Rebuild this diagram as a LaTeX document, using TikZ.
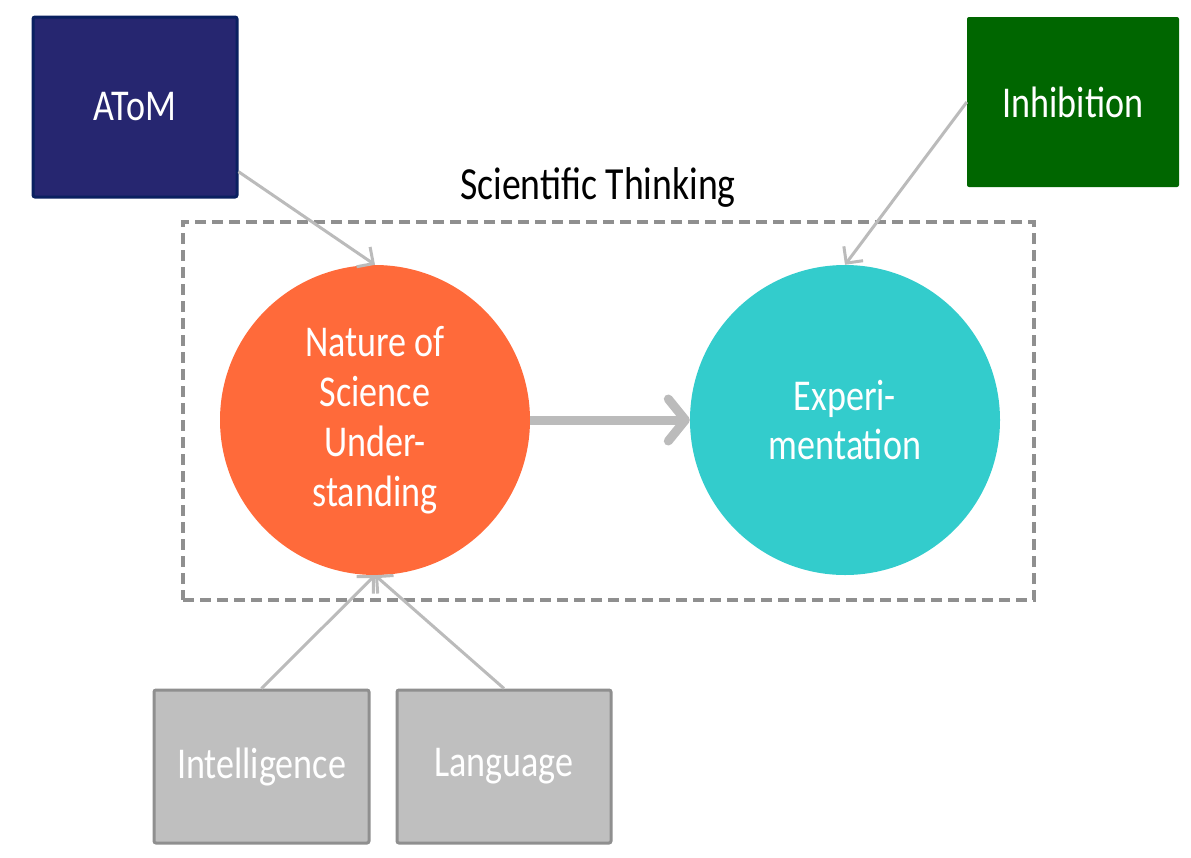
\documentclass[tikz,border=0pt]{standalone}
\usepackage{fontspec}
\setmainfont{Carlito}[FakeStretch=0.82]
\usetikzlibrary{arrows.meta}
\definecolor{atomfill}{RGB}{38,38,112}
\definecolor{atomline}{RGB}{10,32,96}
\definecolor{inhfill}{RGB}{0,102,0}
\definecolor{nsufill}{RGB}{255,106,58}
\definecolor{expfill}{RGB}{51,204,204}
\definecolor{boxfill}{RGB}{191,191,191}
\definecolor{boxline}{RGB}{143,143,143}
\definecolor{arrgray}{RGB}{187,187,187}
\begin{document}
\begin{tikzpicture}[x=1pt,y=-1pt,
  lbl/.style={font=\fontsize{44}{50}\selectfont, text=white, align=center, inner sep=0pt},
  sqbox/.style={lbl, rectangle, rounded corners=2pt, minimum width=#1, minimum height=170},
  bigcirc/.style={lbl, circle, minimum size=310, draw=none},
  thin/.style={draw=arrgray, line width=3pt, -{Straight Barb[length=12pt,width=24pt]}},
  thick/.style={draw=arrgray, line width=9pt, -{Straight Barb[length=17pt,width=42pt,round]}}
]
\useasboundingbox (0,0) rectangle (1191,857);
% dashed frame
\node[draw=boxline, line width=3.5pt, dash pattern=on 11pt off 6pt, minimum width=851, minimum height=378, inner sep=0pt] (frame) at (608.5,411) {};
\node[font=\fontsize{46}{52}\selectfont, text=black, inner sep=0pt] (title) at (598,187) {Scientific Thinking};
% boxes
\node[sqbox=204, minimum height=180, fill=atomfill, draw=atomline, line width=3pt] (atom) at (135,107) {AToM};
\node[sqbox=212, minimum height=170, fill=inhfill] (inh) at (1073,102) {Inhibition};
\node[sqbox=215, minimum height=153, fill=boxfill, draw=boxline, line width=3pt] (int) at (261.5,766.5) {Intelligence};
\node[sqbox=214, minimum height=153, fill=boxfill, draw=boxline, line width=3pt] (lang) at (504,766.5) {Language};
% circles
\node[bigcirc, fill=nsufill, font=\fontsize{44}{50}\selectfont] (nsu) at (375,420) {Nature\hspace{0.18em}of\\Science\\Under-\\standing};
\node[bigcirc, fill=expfill, font=\fontsize{44}{49}\selectfont] (exp) at (845,420) {Experi-\\mentation};
% connectors
\draw[thin] (atom.-32) -- (nsu.north);
\draw[thin] (inh.west) -- (exp.north);
\draw[thin] (int.north) -- (nsu.south);
\draw[thin] (lang.north) -- (nsu.south);
\draw[thick] (nsu.east) -- (exp.west);
\end{tikzpicture}
\end{document}
